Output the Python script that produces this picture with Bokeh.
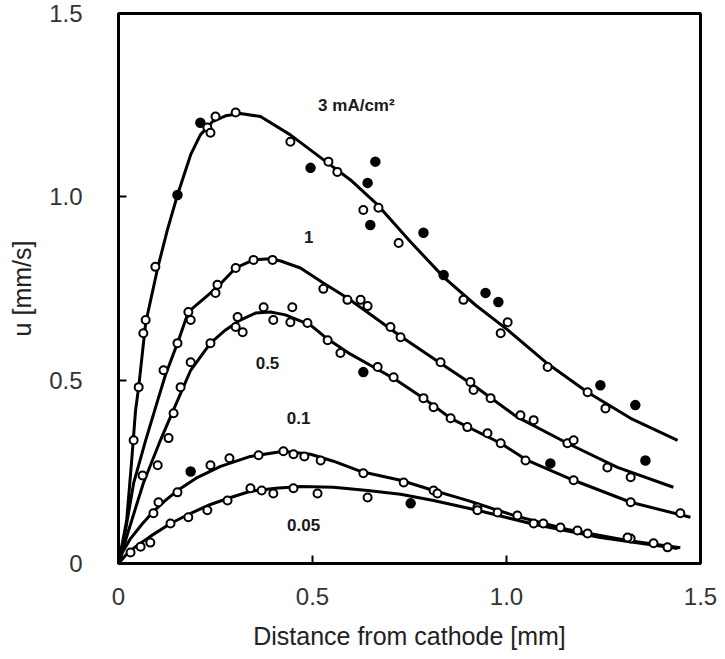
from bokeh.plotting import figure
from bokeh.models import FixedTicker, Range1d
from bokeh.embed import file_html
from bokeh.resources import INLINE
from bokeh.core.properties import value

# ---------------- data ----------------
x_ticks = [0, 0.5, 1.0, 1.5]
x_tick_labels = ["0", "0.5", "1.0", "1.5"]
y_ticks = [0, 0.5, 1.0, 1.5]
y_tick_labels = ["0", "0.5", "1.0", "1.5"]

# fitted curves (distance mm, velocity mm/s)
a_line_x = [0, 0.021, 0.034, 0.044, 0.052, 0.070, 0.101, 0.126, 0.152, 0.186, 0.211, 0.242, 0.276, 0.314, 0.366,
            0.443, 0.521, 0.598, 0.668, 0.753, 0.838, 0.920, 1.003, 1.101, 1.209, 1.320, 1.441]
a_line_y = [0, 0.117, 0.281, 0.418, 0.481, 0.656, 0.806, 0.910, 1.005, 1.115, 1.169, 1.205, 1.221, 1.227, 1.219,
            1.169, 1.107, 1.046, 0.978, 0.877, 0.781, 0.705, 0.637, 0.549, 0.467, 0.396, 0.336]

b_line_x = [0, 0.018, 0.039, 0.070, 0.101, 0.121, 0.152, 0.180, 0.255, 0.302, 0.348, 0.392, 0.418, 0.469, 0.528,
            0.590, 0.655, 0.727, 0.830, 0.915, 1.028, 1.157, 1.286, 1.430]
b_line_y = [0, 0.090, 0.219, 0.336, 0.445, 0.514, 0.601, 0.686, 0.754, 0.806, 0.828, 0.831, 0.825, 0.806, 0.765,
            0.724, 0.675, 0.620, 0.546, 0.486, 0.399, 0.328, 0.262, 0.208]

c_line_x = [0, 0.026, 0.064, 0.108, 0.147, 0.186, 0.237, 0.276, 0.314, 0.353, 0.392, 0.430, 0.495, 0.539, 0.598,
            0.657, 0.709, 0.786, 0.856, 0.985, 1.054, 1.173, 1.320, 1.474]
c_line_y = [0, 0.090, 0.219, 0.336, 0.432, 0.527, 0.601, 0.637, 0.664, 0.683, 0.686, 0.678, 0.650, 0.612, 0.571,
            0.536, 0.505, 0.451, 0.396, 0.328, 0.281, 0.227, 0.167, 0.126]

d_line_x = [0, 0.010, 0.031, 0.062, 0.090, 0.121, 0.152, 0.204, 0.263, 0.340, 0.425, 0.495, 0.554, 0.624, 0.727,
            0.812, 0.899, 1.028, 1.157, 1.312, 1.448]
d_line_y = [0, 0.030, 0.068, 0.109, 0.142, 0.172, 0.199, 0.235, 0.265, 0.292, 0.306, 0.298, 0.279, 0.251, 0.227,
            0.199, 0.172, 0.128, 0.093, 0.063, 0.043]

e_line_x = [0, 0.018, 0.044, 0.082, 0.134, 0.186, 0.237, 0.289, 0.340, 0.405, 0.469, 0.554, 0.642, 0.727, 0.812,
            0.925, 1.070, 1.242, 1.345, 1.441]
e_line_y = [0, 0.022, 0.046, 0.074, 0.109, 0.137, 0.161, 0.180, 0.197, 0.205, 0.210, 0.208, 0.199, 0.189, 0.172,
            0.145, 0.107, 0.071, 0.055, 0.041]

# measured points: open and filled symbols
a_open_x = [0.039, 0.052, 0.064, 0.070, 0.095, 0.229, 0.237, 0.250, 0.302, 0.443, 0.541, 0.564, 0.631, 0.670,
            0.722, 0.889, 1.003, 0.985, 1.106, 1.209, 1.255]
a_open_y = [0.336, 0.481, 0.628, 0.664, 0.809, 1.189, 1.175, 1.219, 1.230, 1.150, 1.096, 1.068, 0.964, 0.970,
            0.874, 0.719, 0.658, 0.628, 0.536, 0.467, 0.423]
a_fill_x = [0.152, 0.211, 0.495, 0.662, 0.642, 0.649, 0.786, 0.838, 0.946, 0.979, 1.242, 1.332, 1.358]
a_fill_y = [1.005, 1.202, 1.079, 1.096, 1.038, 0.923, 0.902, 0.787, 0.738, 0.713, 0.486, 0.432, 0.281]

b_open_x = [0.062, 0.116, 0.152, 0.180, 0.186, 0.250, 0.255, 0.302, 0.348, 0.397, 0.528, 0.590, 0.624, 0.642,
            0.701, 0.727, 0.830, 0.907, 0.915, 0.959, 1.036, 1.070, 1.157, 1.173, 1.260, 1.320]
b_open_y = [0.240, 0.527, 0.601, 0.686, 0.664, 0.738, 0.760, 0.806, 0.828, 0.828, 0.749, 0.719, 0.719, 0.702,
            0.645, 0.617, 0.549, 0.495, 0.473, 0.451, 0.404, 0.391, 0.328, 0.336, 0.262, 0.235]

c_open_x = [0.101, 0.129, 0.142, 0.160, 0.186, 0.237, 0.302, 0.307, 0.320, 0.374, 0.399, 0.448, 0.443, 0.487,
            0.539, 0.572, 0.668, 0.709, 0.786, 0.812, 0.856, 0.899, 0.951, 0.985, 1.049, 1.173, 1.320, 1.448]
c_open_y = [0.268, 0.342, 0.410, 0.481, 0.549, 0.601, 0.645, 0.672, 0.631, 0.699, 0.664, 0.699, 0.658, 0.656,
            0.609, 0.574, 0.536, 0.508, 0.451, 0.426, 0.396, 0.372, 0.355, 0.328, 0.281, 0.227, 0.167, 0.137]
c_fill_x = [0.631, 1.113]
c_fill_y = [0.522, 0.273]

d_open_x = [0.090, 0.103, 0.152, 0.237, 0.286, 0.361, 0.425, 0.451, 0.479, 0.521, 0.631, 0.735, 0.812, 0.925,
            1.028, 1.095, 1.183, 1.320, 1.379]
d_open_y = [0.137, 0.167, 0.194, 0.268, 0.287, 0.295, 0.306, 0.298, 0.292, 0.281, 0.246, 0.221, 0.199, 0.153,
            0.131, 0.109, 0.090, 0.068, 0.055]
d_fill_x = [0.186]
d_fill_y = [0.251]

e_open_x = [0.031, 0.057, 0.082, 0.134, 0.180, 0.229, 0.281, 0.340, 0.369, 0.399, 0.451, 0.513, 0.642, 0.822,
            0.925, 0.977, 1.070, 1.139, 1.209, 1.312, 1.415]
e_open_y = [0.030, 0.046, 0.057, 0.109, 0.126, 0.145, 0.172, 0.205, 0.199, 0.191, 0.205, 0.191, 0.180, 0.191,
            0.145, 0.139, 0.109, 0.098, 0.082, 0.071, 0.044]
e_fill_x = [0.753]
e_fill_y = [0.164]

# curve labels (current density)
label_text = ["3 mA/cm²", "1", "0.5", "0.1", "0.05"]
label_x = [0.613, 0.490, 0.384, 0.464, 0.477]
label_y = [1.249, 0.891, 0.546, 0.396, 0.104]

# ---------------- figure ----------------
FONT = "Liberation Sans"
p = figure(width=725, height=659, output_backend="svg", toolbar_location=None,
           x_range=Range1d(0, 1.5), y_range=Range1d(0, 1.5),
           min_border_left=118, min_border_right=25, min_border_top=13, min_border_bottom=96,
           background_fill_color="white", border_fill_color="white")
p.grid.visible = False
p.outline_line_color = "black"
p.outline_line_width = 3

p.xaxis.ticker = FixedTicker(ticks=x_ticks)
p.xaxis.major_label_overrides = {t: l for t, l in zip(x_ticks, x_tick_labels)}
p.yaxis.ticker = FixedTicker(ticks=y_ticks)
p.yaxis.major_label_overrides = {t: l for t, l in zip(y_ticks, y_tick_labels)}

for ax in (p.xaxis[0], p.yaxis[0]):
    ax.axis_line_width = 3
    ax.axis_line_color = "black"
    ax.major_tick_in = 8
    ax.major_tick_out = 0
    ax.major_tick_line_width = 2
    ax.minor_tick_line_color = None
    ax.major_label_text_font = FONT
    ax.major_label_text_font_size = "24px"
    ax.major_label_text_color = "#333333"
    ax.axis_label_text_font = FONT
    ax.axis_label_text_font_size = "25px"
    ax.axis_label_text_font_style = "normal"
    ax.axis_label_text_color = "#222222"

p.xaxis.axis_label = "Distance from cathode [mm]"
p.yaxis.axis_label = "u [mm/s]"
p.xaxis.major_label_standoff = 24
p.xaxis.axis_label_standoff = 14
p.yaxis.major_label_standoff = 36
p.yaxis.axis_label_standoff = 10

curves = [(a_line_x, a_line_y), (b_line_x, b_line_y), (c_line_x, c_line_y), (d_line_x, d_line_y), (e_line_x, e_line_y)]
for xs, ys in curves:
    p.line(xs, ys, line_color="black", line_width=3, line_join="round")

opens = [(a_open_x, a_open_y), (b_open_x, b_open_y), (c_open_x, c_open_y), (d_open_x, d_open_y), (e_open_x, e_open_y)]
for xs, ys in opens:
    p.scatter(xs, ys, marker="circle", size=8, line_color="black", line_width=2, fill_color="white")

fills = [(a_fill_x, a_fill_y), (c_fill_x, c_fill_y), (d_fill_x, d_fill_y), (e_fill_x, e_fill_y)]
for xs, ys in fills:
    p.scatter(xs, ys, marker="circle", size=9, line_color="black", line_width=1.5, fill_color="black")

p.text(x=label_x, y=label_y, text=label_text, text_font=value(FONT), text_font_size="17px",
       text_font_style="bold", text_color="#1a1a1a", text_align="center", text_baseline="middle")

open("out.html", "w").write(file_html(p, INLINE))
